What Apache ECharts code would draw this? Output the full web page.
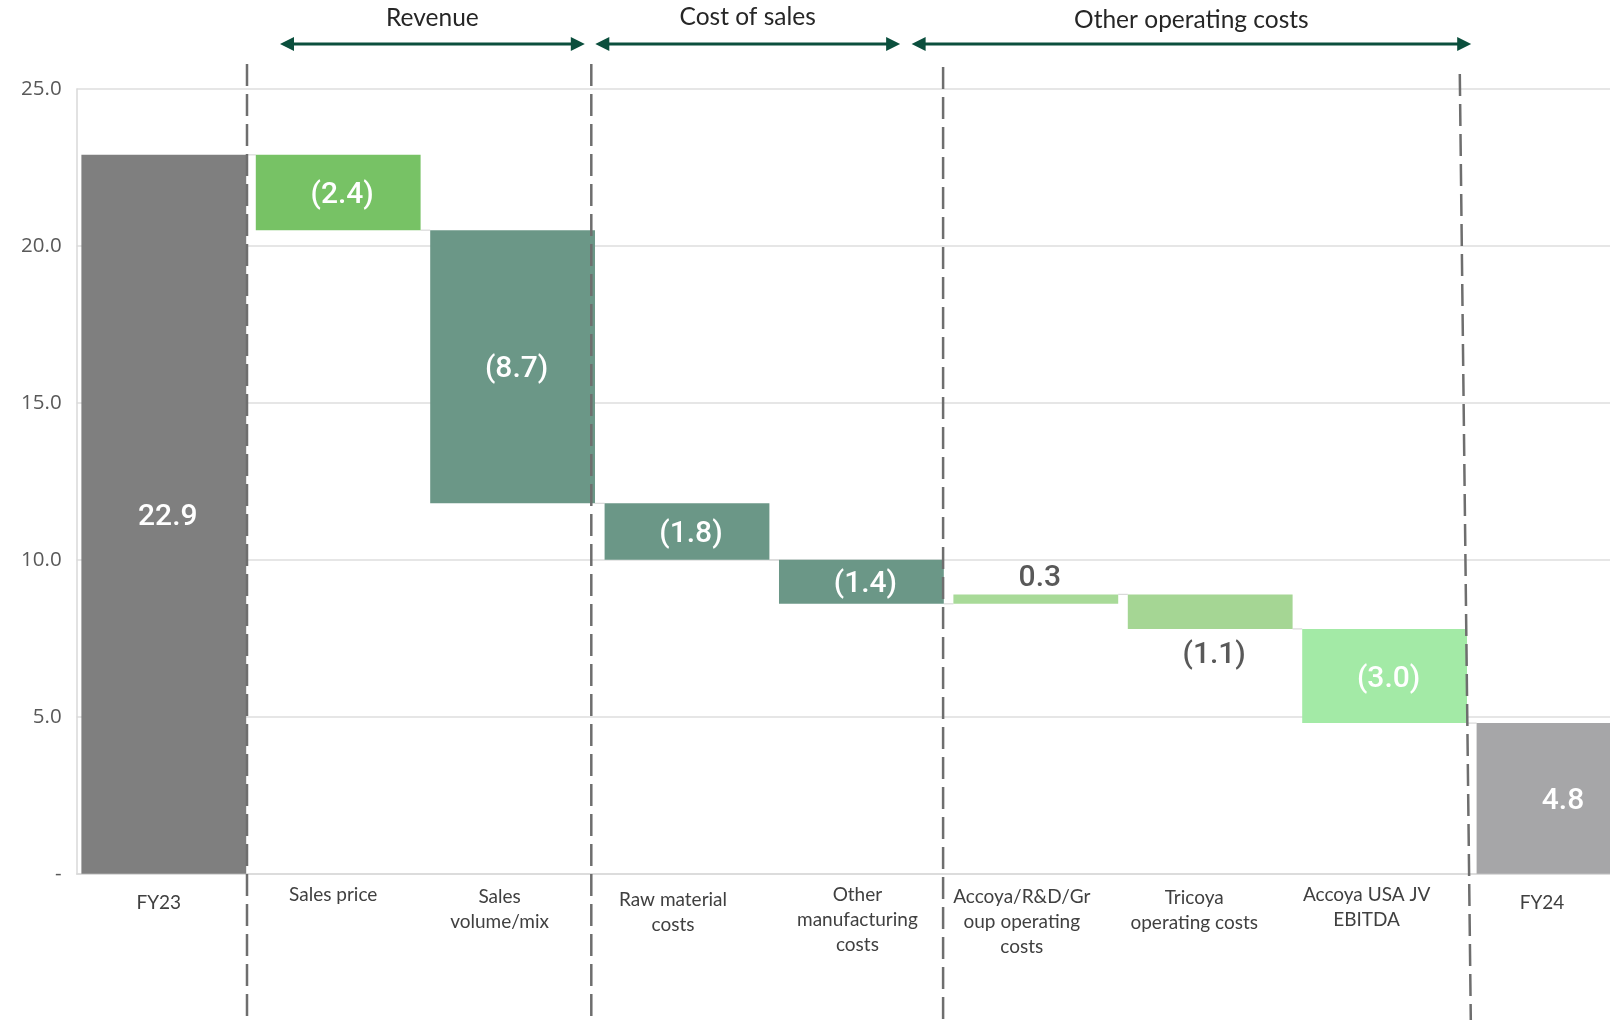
<!DOCTYPE html>
<html>
<head>
<meta charset="utf-8">
<title>EBITDA bridge FY23 to FY24</title>
<script src="https://cdn.jsdelivr.net/npm/echarts@6/dist/echarts.min.js"></script>
<style>
  html, body { margin: 0; padding: 0; background: #ffffff; }
  #chart { width: 1610px; height: 1020px; }
</style>
</head>
<body>
<div id="chart"></div>
<script>
// ---- data ----
const categories = [
  'FY23',
  'Sales price',
  'Sales\nvolume/mix',
  'Raw material\ncosts',
  'Other\nmanufacturing\ncosts',
  'Accoya/R&D/Gr\noup operating\ncosts',
  'Tricoya\noperating costs',
  'Accoya USA JV\nEBITDA',
  'FY24'
];
const openingTotal = 22.9;           // FY23
const movements = [-2.4, -8.7, -1.8, -1.4, 0.3, -1.1, -3.0];
const closingTotal = 4.8;            // FY24
const yMin = 0, yMax = 25, yStep = 5;

// section headers spanning groups of categories (first / last category index)
const sections = [
  { name: 'Revenue', first: 1, last: 2 },
  { name: 'Cost of sales', first: 3, last: 4 },
  { name: 'Other operating costs', first: 5, last: 7 }
];

// ---- styling ----
const barColors = ['#7f7f7f', '#77c265', '#6b9787', '#6b9787', '#6b9787',
                   '#a8da98', '#a5d694', '#a3eaa6', '#a6a6a8'];
const labelPlacement = ['inside', 'inside', 'inside', 'inside', 'inside',
                        'top', 'bottom', 'inside', 'inside'];
// small per-label nudges of the category text: [left shift, extra top]
const labelNudge = [[5, 8], [5, 0], [13, 2], [14, 5], [4, 0], [14, 2], [16, 3], [18, 0], [17, 8]];
const gapRatio = 0.055;

// ---- waterfall geometry from the values ----
const r1 = v => Math.round(v * 10) / 10;
const baseData = [0];
const stepData = [openingTotal];
const levels = [openingTotal];        // running total after each column
let running = openingTotal;
movements.forEach(m => {
  const next = r1(running + m);
  baseData.push(Math.min(running, next));
  stepData.push(Math.abs(m));
  running = next;
  levels.push(running);
});
baseData.push(0);
stepData.push(closingTotal);

const fmtMove = v => v < 0 ? '(' + Math.abs(v).toFixed(1) + ')' : v.toFixed(1);
const labelTexts = [openingTotal.toFixed(1)]
  .concat(movements.map(fmtMove))
  .concat([closingTotal.toFixed(1)]);

const chart = echarts.init(document.getElementById('chart'), null, { renderer: 'canvas' });

const option = {
  animation: false,
  backgroundColor: '#ffffff',
  grid: {
    left: 76.6, top: 88.9, width: 1569.6, bottom: 146.2,
    containLabel: false,
    outerBoundsMode: 'none'
  },
  xAxis: {
    type: 'category',
    data: categories.map((c, i) => ({
      value: c,
      textStyle: { padding: [labelNudge[i][1], labelNudge[i][0] * 2, 0, 0] }
    })),
    axisLine: { show: true, lineStyle: { color: '#d9d9d9', width: 1.5 } },
    axisTick: { show: false },
    axisLabel: {
      interval: 0,
      margin: 9,
      color: '#404040',
      fontFamily: 'Lato',
      fontSize: 19,
      lineHeight: 25,
      verticalAlign: 'top'
    },
    splitLine: { show: false }
  },
  yAxis: {
    type: 'value',
    min: yMin,
    max: yMax,
    interval: yStep,
    axisLine: { show: true, lineStyle: { color: '#d9d9d9', width: 1.5 } },
    axisTick: { show: false },
    axisLabel: {
      margin: 15,
      color: '#595959',
      fontFamily: 'Open Sans',
      fontSize: 20.5,
      formatter: v => v === 0 ? '-' : v.toFixed(1)
    },
    splitLine: { show: true, lineStyle: { color: '#dedede', width: 1.5 } }
  },
  series: [
    {
      name: 'base',
      type: 'bar',
      stack: 'bridge',
      barCategoryGap: (gapRatio * 100) + '%',
      itemStyle: { color: 'transparent' },
      emphasis: { disabled: true },
      data: baseData
    },
    {
      name: 'EBITDA',
      type: 'bar',
      stack: 'bridge',
      barCategoryGap: (gapRatio * 100) + '%',
      data: stepData.map((v, i) => ({
        value: v,
        itemStyle: { color: barColors[i] },
        label: {
          show: true,
          position: labelPlacement[i],
          distance: labelPlacement[i] === 'top' ? 4 : 9,
          offset: [4, 3],
          color: labelPlacement[i] === 'inside' ? '#ffffff' : '#595959',
          formatter: () => labelTexts[i]
        }
      })),
      label: {
        fontFamily: 'Roboto',
        fontWeight: 500,
        fontSize: 30
      }
    },
    {
      // thin connectors between neighbouring columns at the running total
      name: 'connectors',
      type: 'custom',
      silent: true,
      z: 1,
      data: levels.map((lv, i) => [i, lv]),
      renderItem: (params, api) => {
        const i = api.value(0), lv = api.value(1);
        const a = api.coord([i, lv]);
        const b = api.coord([i + 1, lv]);
        const half = api.size([1, 0])[0] * (1 - gapRatio) / 2;
        return {
          type: 'line',
          shape: { x1: a[0] + half, y1: a[1], x2: b[0] - half, y2: b[1] },
          style: { stroke: '#d9d9d9', lineWidth: 1.2 }
        };
      }
    }
  ]
};

chart.setOption(option);

// ---- section dividers and header arrows, placed on category boundaries ----
const centerX = i => chart.convertToPixel({ xAxisIndex: 0 }, i);
const boundaryX = i => (centerX(i - 1) + centerX(i)) / 2;   // left edge of category i

// dividers: boundary before category idx, with top/bottom offsets
const dividers = [
  { idx: 1, dxTop: -4, dxBottom: -4, top: 64 },
  { idx: 3, dxTop: -8.5, dxBottom: -8.5, top: 64 },
  { idx: 5, dxTop: -5.5, dxBottom: -5.5, top: 67 },
  { idx: 8, dxTop: -12, dxBottom: -1, top: 74 }
];
// arrow extents relative to section boundaries
const arrowOffsets = [[29, -15], [-4.5, -48.5], [-37, -0.6]];
const headerY = [18.5, 17.5, 20.5];
const arrowY = 44;
const arrowColor = '#0b4f3d';

const graphics = [];
dividers.forEach(d => {
  const bx = boundaryX(d.idx);
  graphics.push({
    type: 'line',
    silent: true,
    z: 50,
    shape: { x1: bx + d.dxTop, y1: d.top, x2: bx + d.dxBottom, y2: 1020 },
    style: { stroke: '#6e6e6e', lineWidth: 2.5, lineDash: [22, 8] }
  });
});

sections.forEach((s, k) => {
  const x1 = boundaryX(s.first) + arrowOffsets[k][0];
  const x2 = boundaryX(s.last + 1) + arrowOffsets[k][1];
  const head = 14, hw = 7;
  graphics.push({
    type: 'line', silent: true, z: 60,
    shape: { x1: x1 + 6, y1: arrowY, x2: x2 - 6, y2: arrowY },
    style: { stroke: arrowColor, lineWidth: 3 }
  });
  graphics.push({
    type: 'polygon', silent: true, z: 60,
    shape: { points: [[x1, arrowY], [x1 + head, arrowY - hw], [x1 + head, arrowY + hw]] },
    style: { fill: arrowColor }
  });
  graphics.push({
    type: 'polygon', silent: true, z: 60,
    shape: { points: [[x2, arrowY], [x2 - head, arrowY - hw], [x2 - head, arrowY + hw]] },
    style: { fill: arrowColor }
  });
  graphics.push({
    type: 'text', silent: true, z: 60,
    x: (x1 + x2) / 2,
    y: headerY[k],
    style: {
      text: s.name,
      align: 'center',
      verticalAlign: 'middle',
      fontFamily: 'Lato',
      fontSize: 24.5,
      fill: '#262626'
    }
  });
});

chart.setOption({ graphic: graphics });
</script>
</body>
</html>
